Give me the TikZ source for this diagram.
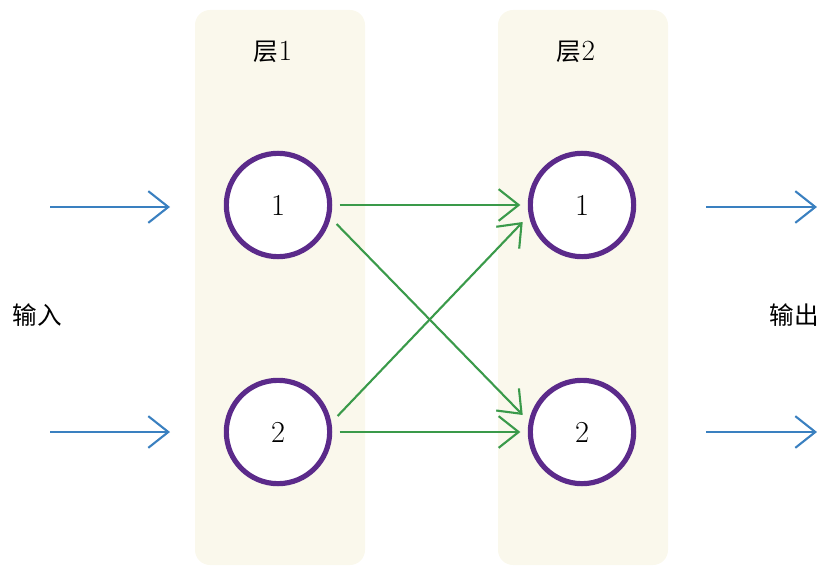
\documentclass[tikz,border=0pt]{standalone}
\usepackage{fontspec}
\newfontfamily\cjk{Noto Sans CJK SC}
\usetikzlibrary{arrows.meta}
\definecolor{panelbg}{HTML}{FAF8EC}
\definecolor{neuronc}{HTML}{5B2A8A}
\definecolor{inblue}{HTML}{3A80C0}
\definecolor{linkgreen}{HTML}{3A9A4A}
\tikzset{
  neuron/.style={circle, draw=neuronc, line width=4.4pt, fill=white,
    minimum size=3.1cm, outer sep=0.3cm, font=\fontsize{26}{30}\selectfont},
  layerbox/.style={fill=panelbg, rounded corners=0.45cm},
  barb/.style={-{Straight Barb[length=0.6cm, width=0.95cm]}, line width=1.8pt},
  lbl/.style={font=\fontsize{21}{25}\selectfont}
}
\begin{document}
\begin{tikzpicture}[x=0.03cm, y=-0.03cm]
\useasboundingbox (0,0) rectangle (817,567);
% layers
\fill [layerbox] (195,10) rectangle (365,565);
\fill [layerbox] (498,10) rectangle (668,565);
\node [lbl] (l1) at (273,52) {{\cjk 层}{\fontsize{25}{25}\selectfont 1}};
\node [lbl] (l2) at (576,52) {{\cjk 层}{\fontsize{25}{25}\selectfont 2}};
% neurons
\node [neuron] (a1) at (278,205) {1};
\node [neuron] (a2) at (278,432) {2};
\node [neuron] (b1) at (582,205) {1};
\node [neuron] (b2) at (582,432) {2};
% inputs and outputs
\node [lbl] (in) at (37,315) {\cjk 输入};
\node [lbl] (out) at (794,315) {\cjk 输出};
\coordinate (i1) at (50,207);
\coordinate (i2) at (50,432);
\coordinate (t1) at (170,207);
\coordinate (t2) at (170,432);
\coordinate (o1) at (706,207);
\coordinate (o2) at (706,432);
\coordinate (e1) at (817,207);
\coordinate (e2) at (817,432);
\draw [barb, color=inblue] (i1) to (t1);
\draw [barb, color=inblue] (i2) to (t2);
\draw [barb, color=inblue] (o1) to (e1);
\draw [barb, color=inblue] (o2) to (e2);
% links
\draw [barb, color=linkgreen] (a1.east) to (b1.west);
\draw [barb, color=linkgreen] (a1.-18) to (b2.164);
\draw [barb, color=linkgreen] (a2.15) to (b1.-164);
\draw [barb, color=linkgreen] (a2.east) to (b2.west);
\end{tikzpicture}
\end{document}
